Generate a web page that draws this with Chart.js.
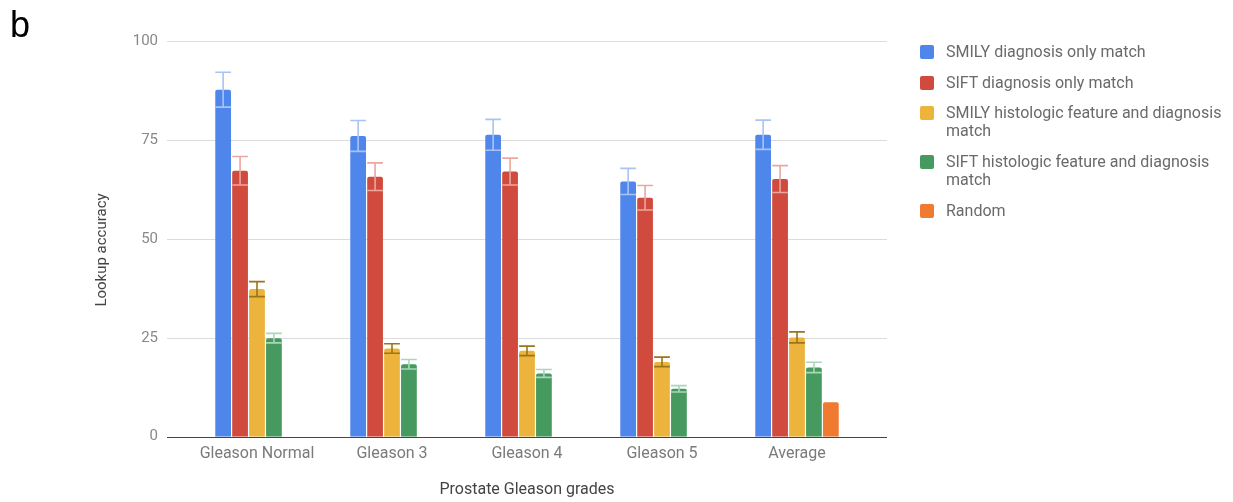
<!DOCTYPE html>
<html>
<head>
<meta charset="utf-8">
<script src="https://cdn.jsdelivr.net/npm/chart.js@4.4.1/dist/chart.umd.min.js"></script>
<style>
  html, body { margin: 0; padding: 0; background: #fff; }
  #wrap { position: relative; width: 1233px; height: 502px; }
  #chart { position: absolute; left: 0; top: 0; }
  #legend { position: absolute; left: 920px; top: 43px; width: 310px;
            font-family: Roboto, "Noto Sans", sans-serif; font-size: 16px; color: #6a6a6a; }
  .item { display: flex; align-items: flex-start; margin-bottom: 12.7px; line-height: 18px; }
  .sw { width: 14px; height: 14px; border-radius: 2px; flex: 0 0 14px; margin-top: 2px; margin-right: 12px; }
  .tx { width: 284px; }
</style>
</head>
<body>
<div id="wrap">
  <canvas id="chart" width="1233" height="502"></canvas>
  <div id="legend"></div>
</div>
<script>
// Prostate Gleason grade groups
const categories = ['Gleason Normal', 'Gleason 3', 'Gleason 4', 'Gleason 5', 'Average'];

// Lookup accuracy (%) and interval half-widths per series
const smilyDiagnosis    = [87.7, 76.0, 76.3, 64.5, 76.3];
const smilyDiagnosisErr = [4.4, 3.9, 3.9, 3.3, 3.7];
const siftDiagnosis     = [67.2, 65.7, 67.0, 60.4, 65.1];
const siftDiagnosisErr  = [3.6, 3.5, 3.4, 3.1, 3.4];
const smilyHistologic    = [37.3, 22.3, 21.7, 18.9, 25.1];
const smilyHistologicErr = [1.9, 1.2, 1.2, 1.2, 1.4];
const siftHistologic    = [24.9, 18.3, 16.0, 12.1, 17.5];
const siftHistologicErr = [1.2, 1.2, 1.0, 0.8, 1.3];
const randomBaseline    = [null, null, null, null, 8.7];

const yTicks = [0, 25, 50, 75, 100];

const seriesNames = [
  'SMILY diagnosis only match',
  'SIFT diagnosis only match',
  'SMILY histologic feature and diagnosis match',
  'SIFT histologic feature and diagnosis match',
  'Random'
];
const seriesColors = ['#4f86ec', '#d04b3d', '#ecb43c', '#479a5f', '#ef7a30'];
const errorColors  = ['#a9c4f4', '#eba69e', '#9a7519', '#a9d8b8', null];

const values = [smilyDiagnosis, siftDiagnosis, smilyHistologic, siftHistologic, randomBaseline];
const errors = [smilyDiagnosisErr, siftDiagnosisErr, smilyHistologicErr, siftHistologicErr, null];

const datasets = values.map((v, i) => ({
  label: seriesNames[i],
  data: v,
  errors: errors[i],
  errorColor: errorColors[i],
  backgroundColor: seriesColors[i],
  borderWidth: 0,
  borderRadius: { topLeft: 2, topRight: 2, bottomLeft: 0, bottomRight: 0 },
  borderSkipped: 'bottom',
  categoryPercentage: 0.627,
  barPercentage: 0.93
}));

// Horizontal gridlines that run a little past the category bands, plus the baseline
const gridPlugin = {
  id: 'wideGrid',
  beforeDatasetsDraw(chart) {
    const { ctx, chartArea, scales } = chart;
    const ext = (chartArea.width / categories.length) / 6;
    ctx.save();
    yTicks.forEach(t => {
      const y = Math.round(scales.y.getPixelForValue(t)) + 0.5;
      ctx.beginPath();
      ctx.strokeStyle = t === 0 ? '#444' : '#dcdcdc';
      ctx.lineWidth = t === 0 ? 1.2 : 1;
      ctx.moveTo(chartArea.left - ext, y);
      ctx.lineTo(chartArea.right + ext, y);
      ctx.stroke();
    });
    ctx.restore();
  }
};

// Interval whiskers drawn over each bar
const errorPlugin = {
  id: 'errorBars',
  afterDatasetsDraw(chart) {
    const { ctx, scales } = chart;
    ctx.save();
    chart.data.datasets.forEach((ds, di) => {
      if (!ds.errors) return;
      const meta = chart.getDatasetMeta(di);
      meta.data.forEach((bar, i) => {
        const v = ds.data[i], e = ds.errors[i];
        if (v == null || e == null) return;
        const yTop = scales.y.getPixelForValue(v + e);
        const yBot = scales.y.getPixelForValue(v - e);
        const half = bar.width / 2;
        ctx.strokeStyle = ds.errorColor;
        ctx.lineWidth = 1.6;
        ctx.beginPath();
        ctx.moveTo(bar.x, yTop); ctx.lineTo(bar.x, yBot);
        ctx.moveTo(bar.x - half, yTop); ctx.lineTo(bar.x + half, yTop);
        ctx.moveTo(bar.x - half, yBot); ctx.lineTo(bar.x + half, yBot);
        ctx.stroke();
      });
    });
    ctx.restore();
  }
};

// Panel letter and axis titles
const textPlugin = {
  id: 'titles',
  afterDraw(chart) {
    const { ctx, chartArea } = chart;
    ctx.save();
    ctx.fillStyle = '#000';
    ctx.font = '36px "Liberation Sans", Arial, sans-serif';
    ctx.textAlign = 'left';
    ctx.textBaseline = 'alphabetic';
    ctx.fillText('b', 10, 37);

    ctx.fillStyle = '#444';
    ctx.font = '16px Roboto, sans-serif';
    ctx.textAlign = 'center';
    ctx.textBaseline = 'middle';
    ctx.fillText('Prostate Gleason grades', (chartArea.left + chartArea.right) / 2, 490);

    ctx.translate(102, 250);
    ctx.rotate(-Math.PI / 2);
    ctx.font = '15px Roboto, sans-serif';
    ctx.fillText('Lookup accuracy', 0, 0);
    ctx.restore();
  }
};

Chart.defaults.font.family = 'Roboto, sans-serif';

new Chart(document.getElementById('chart'), {
  type: 'bar',
  data: { labels: categories, datasets },
  options: {
    responsive: false,
    animation: false,
    layout: { padding: { left: 0, right: 368.5, top: 41, bottom: 0 } },
    plugins: { legend: { display: false }, tooltip: { enabled: false } },
    scales: {
      x: {
        grid: { display: false, drawTicks: false },
        border: { display: false },
        ticks: { color: '#7a7a7a', font: { size: 16 }, padding: 8 },
        afterFit(scale) { scale.height = 65.3; }
      },
      y: {
        min: 0, max: 100,
        grid: { display: false, drawTicks: false },
        border: { display: false },
        afterBuildTicks(scale) { scale.ticks = yTicks.map(v => ({ value: v })); },
        ticks: { color: '#888', font: { size: 15 }, padding: 31.5 },
        afterFit(scale) { scale.width = 189.5; }
      }
    }
  },
  plugins: [gridPlugin, errorPlugin, textPlugin]
});

// Legend
const legend = document.getElementById('legend');
seriesNames.forEach((name, i) => {
  const row = document.createElement('div');
  row.className = 'item';
  const sw = document.createElement('div');
  sw.className = 'sw';
  sw.style.background = seriesColors[i];
  const tx = document.createElement('div');
  tx.className = 'tx';
  tx.textContent = name;
  row.appendChild(sw); row.appendChild(tx);
  legend.appendChild(row);
});
</script>
</body>
</html>
